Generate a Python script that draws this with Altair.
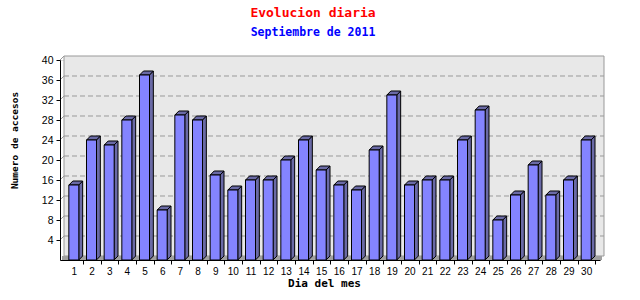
import altair as alt
import pandas as pd

# ---- data ----
days = list(range(1, 31))
visits = [15, 24, 23, 28, 37, 10, 29, 28, 17, 14, 16, 16, 20, 24, 18,
          15, 14, 22, 33, 15, 16, 16, 24, 30, 8, 13, 19, 13, 16, 24]
y_ticks = [4, 8, 12, 16, 20, 24, 28, 32, 36, 40]
grid_vals = [4, 8, 12, 16, 20, 24, 28, 32, 36]

title_text = "Evolucion diaria"
subtitle_text = "Septiembre de 2011"
x_title = "Dia del mes"
y_title = "Numero de accesos"

# ---- styling ----
FRONT = "#8484ff"
DARK = "#6a6aa6"
WALL = "#e8e8e8"
EDGE = "#999999"
FLOOR = "#a0a0a0"
W, H = 540, 200
PX_PER_DAY = W / 30.0
PX_PER_UNIT = H / 40.0
DEPTH = 4
half = 5 / PX_PER_DAY
ddx = DEPTH / PX_PER_DAY
ddy = DEPTH / PX_PER_UNIT

bars = pd.DataFrame({"day": days, "value": visits})
grid_df = pd.DataFrame({"g": grid_vals})
one = alt.Data(values=[{"k": 0}])

x_scale = alt.Scale(domain=[0.5, 30.5], nice=False, zero=False)
y_scale = alt.Scale(domain=[0, 40], nice=False)

x_axis = alt.Axis(
    values=days, tickOffset=PX_PER_DAY / 2, labelOffset=-PX_PER_DAY / 2,
    tickSize=4, tickColor="black", domainColor="black", grid=False, zindex=2,
    labelFont="Liberation Sans", labelFontSize=10, labelColor="black",
    labelPadding=2, labelFlush=False, labelOverlap=False,
    title=x_title, titleFont="DejaVu Sans Mono", titleFontSize=11,
    titleFontWeight="bold", titleColor="black",
    titleX=W / 2 - 6, titleY=23, titleBaseline="middle", titleAlign="center",
)
y_axis = alt.Axis(
    values=y_ticks, tickSize=4, tickColor="black", domainColor="black", grid=False,
    zindex=2,
    labelFont="Liberation Sans", labelFontSize=10.5, labelColor="black",
    labelPadding=3, labelFlush=False,
    title=y_title, titleFont="DejaVu Sans Mono", titleFontSize=9.5,
    titleFontWeight="bold", titleColor="black",
    titleX=-46, titleY=80, titleAngle=270, titleAlign="center", titleBaseline="middle",
)

wall = alt.Chart(one).mark_rect(fill=WALL, stroke=EDGE, strokeWidth=1).encode(
    x=alt.value(DEPTH), x2=alt.value(W + DEPTH), y=alt.value(-DEPTH), y2=alt.value(H - DEPTH)
)
left_edge = alt.Chart(one).mark_rule(color=EDGE).encode(
    x=alt.value(0), x2=alt.value(DEPTH), y=alt.value(0), y2=alt.value(-DEPTH)
)
floor = alt.Chart(one).mark_rect(fill=FLOOR).encode(
    x=alt.value(DEPTH / 2), x2=alt.value(W + DEPTH / 2), y=alt.value(H - DEPTH), y2=alt.value(H)
)

grid = alt.Chart(grid_df).mark_rule(color=EDGE, strokeDash=[5, 3], yOffset=-DEPTH).encode(
    y=alt.Y("g:Q", scale=y_scale, axis=y_axis), x=alt.value(DEPTH), x2=alt.value(W + DEPTH)
)
grid_diag = alt.Chart(grid_df).mark_rule(color=EDGE, y2Offset=-DEPTH).encode(
    y=alt.Y("g:Q", scale=y_scale, axis=y_axis), y2="g:Q", x=alt.value(0), x2=alt.value(DEPTH)
)

base = alt.Chart(bars).transform_calculate(k="[0, 1]").transform_flatten(["k"])

side = base.transform_calculate(
    sx=f"datum.day + {half} + datum.k * {ddx}",
    sy=f"datum.value + datum.k * {ddy}",
    sy0=f"datum.k * {ddy}",
).mark_area(fill=DARK, stroke="black", strokeWidth=1, orient="vertical", interpolate="linear").encode(
    x=alt.X("sx:Q", scale=x_scale, axis=x_axis),
    y=alt.Y("sy:Q", scale=y_scale, axis=y_axis),
    y2="sy0:Q",
    detail="day:N",
)

top = base.transform_calculate(
    tx=f"datum.day - {half} + datum.k * {ddx}",
    tx2=f"datum.day + {half} + datum.k * {ddx}",
    ty=f"datum.value + datum.k * {ddy}",
).mark_area(fill=DARK, stroke="black", strokeWidth=1, orient="horizontal", interpolate="linear").encode(
    y=alt.Y("ty:Q", scale=y_scale, axis=y_axis),
    x=alt.X("tx:Q", scale=x_scale, axis=x_axis),
    x2="tx2:Q",
    detail="day:N",
)

front = alt.Chart(bars).mark_bar(
    size=10, fill=FRONT, stroke="black", strokeWidth=1, orient="vertical"
).encode(
    x=alt.X("day:Q", scale=x_scale, axis=x_axis),
    y=alt.Y("value:Q", scale=y_scale, axis=y_axis),
    y2=alt.datum(0),
)

chart = alt.layer(
    wall, left_edge, grid, grid_diag, floor, side, top, front
).properties(
    width=W, height=H,
    autosize=alt.AutoSizeParams(type="none"),
    padding={"left": 60, "top": 60, "right": 40, "bottom": 40},
    title=alt.Title(
        text=title_text, subtitle=subtitle_text,
        font="DejaVu Sans Mono", fontSize=13, fontWeight="bold", color="red",
        subtitleFont="DejaVu Sans Mono", subtitleFontSize=11.5, subtitleFontWeight="bold",
        subtitleColor="blue", subtitlePadding=7,
        anchor="middle", offset=17, dx=-17,
    ),
).configure_view(stroke=None).configure(background="white")

chart.save("out.html", embed_options={"renderer": "svg", "actions": False})
